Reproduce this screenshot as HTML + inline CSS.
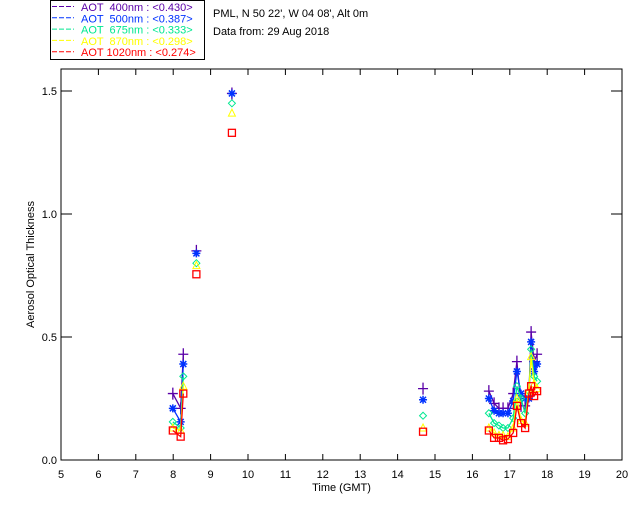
<!DOCTYPE html>
<html><head><meta charset="utf-8"><style>
body{margin:0;background:#fff;}
svg text{font-family:"Liberation Sans",sans-serif;font-size:11px;}
</style></head><body>
<svg id="chart" width="640" height="512" xmlns="http://www.w3.org/2000/svg">
<rect width="640" height="512" fill="#fff"/>
<g>
<rect x="50.5" y="0.5" width="154" height="59" fill="none" stroke="#000"/>
</g>
<text x="213" y="17">PML, N 50 22', W 04 08', Alt 0m</text>
<text x="213" y="35">Data from: 29 Aug 2018</text>
<g id="axes"></g>
<g id="marks"></g>
</svg>
<script>
const times=[7.99,8.2,8.27,8.62,9.57,14.68,16.44,16.58,16.71,16.82,16.95,17.09,17.19,17.30,17.41,17.51,17.57,17.65,17.73];
const aot400=[0.27,0.21,0.43,0.85,1.49,0.29,0.28,0.23,0.21,0.21,0.21,0.27,0.40,0.22,0.22,0.26,0.52,0.40,0.43];
const aot500=[0.21,0.155,0.39,0.84,1.49,0.245,0.25,0.20,0.19,0.19,0.19,0.24,0.36,0.27,0.25,0.25,0.48,0.36,0.39];
const aot675=[0.155,0.13,0.34,0.80,1.45,0.18,0.19,0.15,0.14,0.13,0.13,0.17,0.30,0.25,0.19,0.28,0.45,0.34,0.32];
const aot870=[0.13,0.12,0.30,0.79,1.41,0.13,0.13,0.11,0.10,0.10,0.095,0.13,0.25,0.16,0.15,0.28,0.42,0.31,0.29];
const aot1020=[0.12,0.095,0.27,0.755,1.33,0.115,0.12,0.09,0.09,0.08,0.085,0.11,0.22,0.15,0.13,0.27,0.30,0.26,0.28];
const xTicks=[5,6,7,8,9,10,11,12,13,14,15,16,17,18,19,20];
const yTicks=[0,0.5,1.0,1.5];
const yTickLabels=["0.0","0.5","1.0","1.5"];
const legendLabels=["AOT  400nm : <0.430>","AOT  500nm : <0.387>","AOT  675nm : <0.333>","AOT  870nm : <0.298>","AOT 1020nm : <0.274>"];

const NS="http://www.w3.org/2000/svg";
const L=61,R=622,T=69,B=460;
const x=t=>L+(t-5)*(R-L)/15;
const y=v=>B-v*(B-91)/1.5;
function mk(tag,attrs,parent){const e=document.createElementNS(NS,tag);for(const k in attrs)e.setAttribute(k,attrs[k]);parent.appendChild(e);return e;}
const axes=document.getElementById('axes'),marks=document.getElementById('marks'),svg=document.getElementById('chart');
const frame=mk('rect',{x:L,y:T,width:R-L,height:B-T,fill:'none',stroke:'#000'},axes);


xTicks.forEach(t=>{
  const g=mk('g',{},axes);
  
  
  mk('line',{x1:x(t),x2:x(t),y1:B,y2:B-6,stroke:'#000'},g);
  mk('line',{x1:x(t),x2:x(t),y1:T,y2:T+6,stroke:'#000'},g);
  const tx=mk('text',{x:x(t),y:478,'text-anchor':'middle'},g);tx.textContent=t;
});
yTicks.forEach((v,i)=>{
  const g=mk('g',{},axes);
  
  
  mk('line',{x1:L,x2:L+11,y1:y(v),y2:y(v),stroke:'#000'},g);
  mk('line',{x1:R,x2:R-11,y1:y(v),y2:y(v),stroke:'#000'},g);
  const tx=mk('text',{x:L-4,y:y(v)+4,'text-anchor':'end'},g);tx.textContent=yTickLabels[i];
});
const xt=mk('text',{x:(L+R)/2,y:491,'text-anchor':'middle'},axes);xt.textContent='Time (GMT)';


const yt=mk('text',{x:0,y:0,'text-anchor':'middle',transform:`translate(34,${(T+B)/2}) rotate(-90)`,'font-size':'10'},axes);yt.textContent='Aerosol Optical Thickness';



const series=[
 {vals:aot400,color:'#5a00a8',sym:'plus',name:'400'},
 {vals:aot500,color:'#0032ff',sym:'star',name:'500'},
 {vals:aot675,color:'#00e890',sym:'diamond',name:'675'},
 {vals:aot870,color:'#ffff00',sym:'tri',name:'870'},
 {vals:aot1020,color:'#ff0000',sym:'square',name:'1020'}];
series.forEach((s,si)=>{
  const g=mk('g',{},marks);
  
  
  let d='';
  times.forEach((t,i)=>{
    const brk=i===0||t-times[i-1]>0.3;
    d+=(brk?'M':'L')+x(t).toFixed(1)+','+y(s.vals[i]).toFixed(1);
  });
  const p=mk('path',{d,fill:'none',stroke:s.color,'stroke-width':1.3},g);
  
  
  times.forEach((t,i)=>{
    const cx=x(t),cy=y(s.vals[i]);let m;
    if(s.sym==='plus')m=mk('path',{d:`M${cx-5},${cy}h10M${cx},${cy-6}v12`,stroke:s.color,'stroke-width':1.3},g);
    else if(s.sym==='star')m=mk('path',{d:`M${cx-4},${cy}h8M${cx},${cy-4}v8M${cx-3},${cy-3}l6,6M${cx-3},${cy+3}l6,-6`,stroke:s.color,'stroke-width':1.5},g);
    else if(s.sym==='diamond')m=mk('path',{d:`M${cx},${cy-3.5}l3.5,3.5l-3.5,3.5l-3.5,-3.5z`,fill:'none',stroke:s.color},g);
    else if(s.sym==='tri')m=mk('path',{d:`M${cx},${cy-4}l3.5,7h-7z`,fill:'none',stroke:s.color},g);
    else m=mk('rect',{x:cx-3.5,y:cy-3.5,width:7,height:7,fill:'none',stroke:s.color,'stroke-width':1.3},g);
    
    
  });
  const le=mk('g',{},svg);
  
  
  const ly=10+si*11.3;
  mk('line',{x1:52,x2:74,y1:ly-3.5,y2:ly-3.5,stroke:s.color,'stroke-dasharray':'5,2'},le);
  const lt=mk('text',{x:81,y:ly+1,fill:s.color,'xml:space':'preserve','style':'white-space:pre'},le);lt.textContent=legendLabels[si];
});
</script>
</body></html>
